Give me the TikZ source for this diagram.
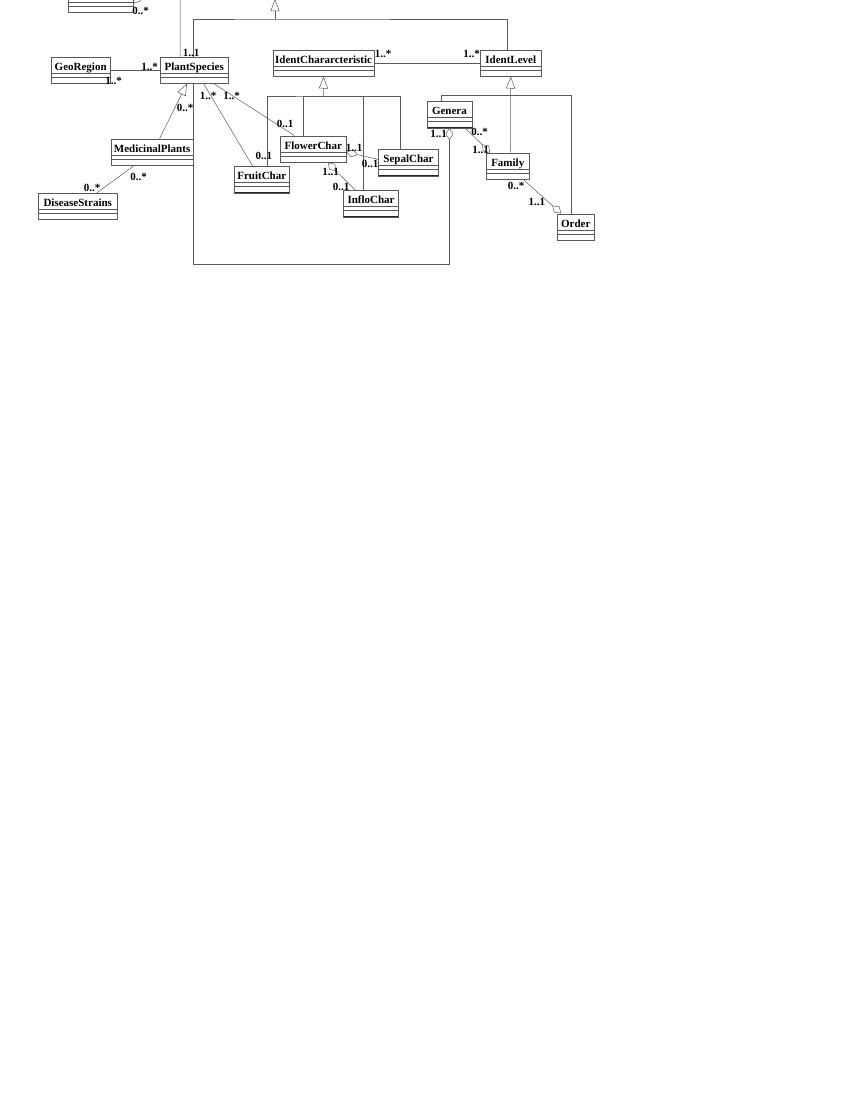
\documentclass[tikz,border=0pt]{standalone}
\usepackage{fontspec}
\setmainfont{Liberation Serif}
\usetikzlibrary{arrows.meta}

\tikzset{
  umlclass/.style={draw=black!65, line width=0.5pt, anchor=north west, inner xsep=1pt, inner ysep=0pt,
    minimum height=26.5pt, text height=13.7pt, text depth=12.8pt,
    font=\bfseries\fontsize{11}{12}\selectfont,
    path picture={
      \draw[black!65, line width=0.5pt] ([yshift=10.5pt]path picture bounding box.south west) -- ([yshift=10.5pt]path picture bounding box.south east);
      \draw[black!65, line width=0.5pt] ([yshift=6.5pt]path picture bounding box.south west) -- ([yshift=6.5pt]path picture bounding box.south east);
      \draw[black!85, line width=1.2pt] (path picture bounding box.south west) -- (path picture bounding box.south east);}},
  mult/.style={font=\bfseries\fontsize{11}{12}\selectfont, inner sep=0pt},
  link/.style={draw=black!65, line width=0.5pt},
  gen/.style={link, -{Triangle[open, length=12pt, width=9pt]}},
  agg/.style={link, {Diamond[open, length=12pt, width=8pt]}-}
}

\begin{document}
\begin{tikzpicture}[x=1pt,y=-1pt]
\useasboundingbox (0,0) rectangle (850,1100);
\clip (0,0) rectangle (850,1100);

\node[umlclass, minimum width=65pt] (TopBox) at (68,-14.5) {};
\node[umlclass, minimum width=59.5pt] (GeoRegion) at (50.7,56.5) {GeoRegion};
\node[umlclass, minimum width=68pt] (PlantSpecies) at (160,56.5) {PlantSpecies};
\node[umlclass, minimum width=101.3pt] (IdentChar) at (272.7,49.5) {IdentChararcteristic};
\node[umlclass, minimum width=61pt] (IdentLevel) at (480,49.5) {IdentLevel};
\node[umlclass, minimum width=81.7pt] (MedicinalPlants) at (111,138.5) {MedicinalPlants};
\node[umlclass, minimum width=78.4pt] (DiseaseStrains) at (38.3,192.7) {DiseaseStrains};
\node[umlclass, minimum width=65.4pt] (FlowerChar) at (280.3,135.5) {FlowerChar};
\node[umlclass, minimum width=55pt] (FruitChar) at (234,166) {FruitChar};
\node[umlclass, minimum width=60pt] (SepalChar) at (378.3,149) {SepalChar};
\node[umlclass, minimum width=55pt] (InfloChar) at (343.3,190) {InfloChar};
\node[umlclass, minimum width=45pt] (Genera) at (426.7,101) {Genera};
\node[umlclass, minimum width=43.6pt] (Family) at (485.7,152.7) {Family};
\node[umlclass, minimum width=37.6pt] (Order) at (556.7,213.5) {Order};

\coordinate (Super) at (275,-1);
\coordinate (sbus) at (275,19);
\coordinate (PSup) at (180,-5);
\coordinate (gcorner) at (448.5,264.3);
\coordinate (cbus) at (323.3,96);
\coordinate (lbus) at (510.5,95.7);

\draw[link] ([xshift=-1pt]PlantSpecies.north) |- (sbus) -| ([xshift=-3.5pt]IdentLevel.north);
\draw[gen] (sbus) -- (Super);
\draw[link] ([xshift=-14pt]PlantSpecies.north) -- (PSup);
\draw[agg] ([yshift=9pt]TopBox.south east) -- ++(10,-12);

\draw[link] (GeoRegion.east) -- (PlantSpecies.west);
\draw[link] (IdentChar.east) -- (IdentLevel.west);
\draw[link] ([xshift=9.3pt]PlantSpecies.south) -- ([xshift=-9.2pt]FruitChar.north);
\draw[link] ([xshift=19.3pt]PlantSpecies.south) -- ([xshift=-19pt]FlowerChar.north);
\draw[gen] ([xshift=7.5pt]MedicinalPlants.north) -- ([xshift=-7.3pt]PlantSpecies.south);
\draw[link] ([xshift=-17.8pt]MedicinalPlants.south) -- ([xshift=19.2pt]DiseaseStrains.north);
\draw[agg] (Genera.south) -- (Genera.south |- gcorner) -| ([xshift=-1.3pt]PlantSpecies.south);

\draw[link] ([xshift=5.2pt]FruitChar.north) |- (cbus) -| ([xshift=-8pt]SepalChar.north);
\draw[link] ([xshift=-10.3pt]FlowerChar.north) |- (cbus);
\draw[link] ([xshift=-7.5pt]InfloChar.north) |- (cbus);
\draw[gen] (cbus) -- (IdentChar.south);

\draw[link] ([xshift=-8.5pt]Genera.north) |- (lbus);
\draw[link] ([xshift=-4.8pt]Order.north) |- (lbus);
\draw[link] (IdentLevel.south |- Family.north) -- (lbus);
\draw[gen] (lbus) -- (IdentLevel.south);

\draw[agg] ([yshift=-3pt]FlowerChar.east) -- ([yshift=3pt]SepalChar.west);
\draw[agg] ([xshift=14.7pt]FlowerChar.south) -- ([xshift=-15.8pt]InfloChar.north);
\draw[agg] ([xshift=-17.5pt]Family.north) -- ([xshift=15.8pt]Genera.south);
\draw[agg] ([xshift=-14.5pt]Order.north) -- ([xshift=15.8pt]Family.south);

\node[mult] (m1) at (140.5,11) {0..*};
\node[mult] (m2) at (191,52.5) {1..1};
\node[mult] (m3) at (149.5,66.7) {1..*};
\node[mult] (m4) at (113.5,81.3) {1..*};
\node[mult] (m5) at (185,107.7) {0..*};
\node[mult] (m6) at (208,96) {1..*};
\node[mult] (m7) at (231.7,96) {1..*};
\node[mult] (m8) at (285.2,124.3) {0..1};
\node[mult] (m9) at (263.8,156) {0..1};
\node[mult] (m10) at (138.7,176.7) {0..*};
\node[mult] (m11) at (92.2,187.7) {0..*};
\node[mult] (m12) at (383,54) {1..*};
\node[mult] (m13) at (471.7,54) {1..*};
\node[mult] (m14) at (354.2,148.3) {1..1};
\node[mult] (m15) at (370,164.3) {0..1};
\node[mult] (m16) at (330.5,171.7) {1..1};
\node[mult] (m17) at (341.2,186.7) {0..1};
\node[mult] (m18) at (438.7,134) {1..1};
\node[mult] (m19) at (479.5,131.5) {0..*};
\node[mult] (m20) at (480.5,150) {1..1};
\node[mult] (m21) at (516.2,186) {0..*};
\node[mult] (m22) at (536.8,201.7) {1..1};
\end{tikzpicture}
\end{document}
